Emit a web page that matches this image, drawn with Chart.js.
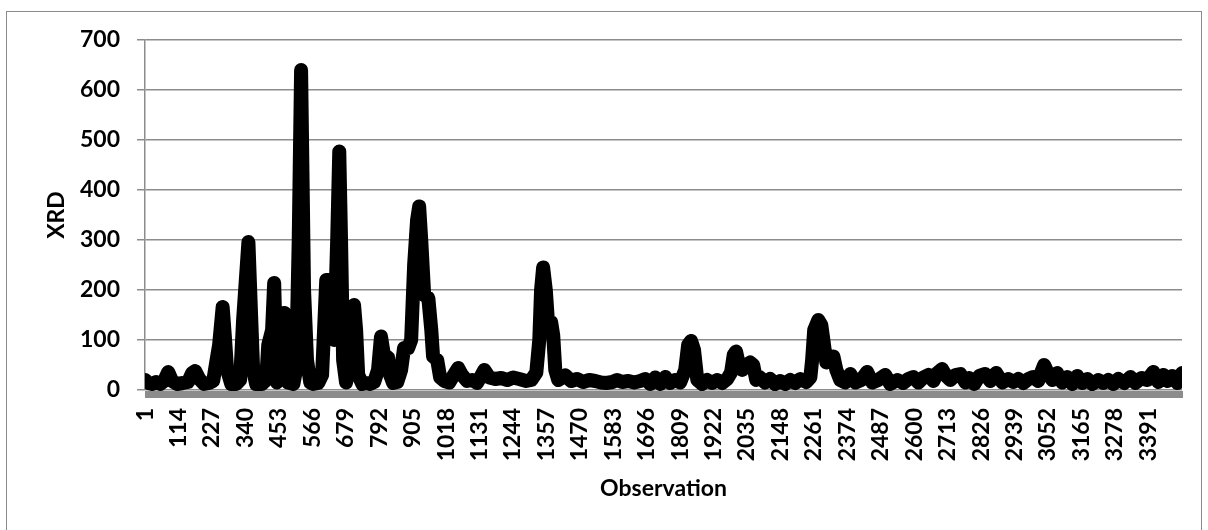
<!DOCTYPE html>
<html>
<head>
<meta charset="utf-8">
<script src="https://cdn.jsdelivr.net/npm/chart.js@4.4.1/dist/chart.umd.min.js"></script>
<style>
  html, body { margin: 0; padding: 0; background: #fff; }
  #wrap { position: relative; width: 1208px; height: 530px; overflow: hidden; }
  #frame { position: absolute; left: 6px; top: 11px; width: 1196px; height: 540px; border: 1px solid #8a8a8a; box-sizing: border-box; }
  #chart-1 { position: absolute; left: 0; top: 0; }
</style>
</head>
<body>
<div id="wrap">
  <div id="frame"></div>
  <canvas id="chart-1" width="1208" height="530"></canvas>
</div>
<script>
// observation number and XRD value
const obsX = [
  1, 11, 25, 38, 52, 65, 79, 92, 109, 129, 146, 160, 170, 184, 200, 217, 231, 241, 251, 263,
  270, 278, 292, 309, 322, 332, 350, 359, 366, 376, 396, 410, 417, 430, 437, 446, 458, 471, 477, 484,
  502, 511, 520, 528, 538, 548, 559, 569, 586, 599, 613, 626, 640, 650, 657, 663, 670, 680, 694, 707,
  714, 721, 735, 748, 761, 775, 788, 798, 808, 822, 829, 839, 853, 866, 876, 890, 900, 910, 920, 927,
  934, 944, 958, 968, 974, 988, 998, 1012, 1029, 1042, 1059, 1072, 1089, 1106, 1123, 1147, 1164, 1184, 1204, 1225,
  1245, 1265, 1289, 1306, 1323, 1333, 1339, 1346, 1355, 1363, 1373, 1380, 1387, 1397, 1421, 1441, 1461, 1481, 1502, 1522,
  1542, 1559, 1580, 1596, 1613, 1634, 1654, 1674, 1691, 1708, 1725, 1742, 1759, 1775, 1792, 1809, 1826, 1836, 1846, 1856,
  1867, 1883, 1900, 1917, 1934, 1951, 1968, 1981, 1990, 1998, 2008, 2019, 2032, 2046, 2056, 2066, 2079, 2096, 2113, 2130,
  2147, 2164, 2181, 2198, 2215, 2235, 2249, 2255, 2262, 2276, 2286, 2293, 2303, 2316, 2327, 2337, 2350, 2367, 2384, 2401,
  2421, 2441, 2458, 2478, 2502, 2519, 2543, 2563, 2580, 2597, 2614, 2631, 2648, 2665, 2678, 2694, 2708, 2722, 2739, 2756,
  2773, 2786, 2803, 2820, 2840, 2857, 2877, 2898, 2918, 2935, 2952, 2969, 2986, 3002, 3019, 3029, 3039, 3053, 3067, 3083,
  3100, 3117, 3134, 3151, 3168, 3185, 3202, 3222, 3239, 3256, 3273, 3290, 3310, 3331, 3347, 3368, 3388, 3408, 3425, 3442,
  3455, 3472, 3489, 3505
];
const xrdY = [
  20, 14, 12, 16, 12, 18, 36, 18, 12, 14, 16, 34, 38, 22, 12, 14, 18, 55, 90, 166,
  110, 40, 12, 12, 20, 140, 296, 150, 40, 12, 12, 20, 90, 120, 214, 15, 100, 154, 80, 15,
  12, 40, 300, 640, 200, 60, 15, 12, 14, 30, 220, 220, 100, 300, 477, 300, 60, 15, 60, 170,
  120, 30, 12, 14, 12, 16, 40, 107, 70, 65, 30, 14, 16, 40, 84, 84, 100, 250, 340, 367,
  300, 190, 184, 120, 67, 60, 25, 18, 15, 28, 44, 30, 18, 20, 14, 40, 25, 22, 24, 20,
  25, 22, 18, 20, 35, 100, 200, 245, 200, 130, 136, 110, 40, 20, 29, 18, 22, 16, 20, 18,
  15, 14, 16, 20, 16, 18, 15, 18, 22, 12, 25, 12, 26, 14, 20, 15, 40, 90, 98, 80,
  20, 12, 20, 14, 20, 14, 22, 35, 70, 77, 50, 40, 50, 55, 50, 20, 25, 15, 22, 12,
  18, 12, 20, 14, 22, 16, 25, 60, 120, 140, 130, 100, 55, 60, 67, 40, 20, 15, 32, 15,
  20, 36, 15, 20, 30, 12, 20, 14, 22, 26, 15, 25, 30, 18, 34, 42, 28, 20, 30, 32,
  15, 24, 12, 28, 32, 18, 34, 15, 22, 16, 22, 14, 22, 26, 18, 35, 50, 32, 20, 34,
  15, 26, 12, 28, 14, 22, 12, 20, 14, 20, 12, 22, 14, 26, 14, 24, 20, 36, 16, 30,
  18, 28, 14, 34
];
const xTickLabels = [
  1, 114, 227, 340, 453, 566, 679, 792, 905, 1018, 1131, 1244, 1357, 1470, 1583, 1696,
  1809, 1922, 2035, 2148, 2261, 2374, 2487, 2600, 2713, 2826, 2939, 3052, 3165, 3278, 3391
];
const yTickLabels = [0, 100, 200, 300, 400, 500, 600, 700];

const points = obsX.map(function (x, i) { return { x: x, y: xrdY[i] }; });

// thick grey strip under the zero line, as in the original axis
const axisBand = {
  id: 'axisBand',
  afterDatasetsDraw: function (chart) {
    const a = chart.chartArea;
    const c = chart.ctx;
    c.save();
    c.fillStyle = '#8c8c8c';
    c.fillRect(a.left, a.bottom + 1, a.right - a.left + 1, 7);
    c.restore();
  }
};

function draw() {
  const ctx1 = document.getElementById("chart-1").getContext("2d");
  const boldFont = { family: 'Lato', weight: 'bold', size: 23 };
  const myChart1 = new Chart(ctx1, {
    type: "line",
    data: {
      datasets: [{
        label: 'XRD',
        data: points,
        borderColor: '#000000',
        borderWidth: 14,
        borderJoinStyle: 'round',
        borderCapStyle: 'round',
        pointRadius: 0,
        tension: 0,
        clip: { left: 0, right: 0, top: 8, bottom: 8 }
      }]
    },
    options: {
      responsive: false,
      animation: false,
      devicePixelRatio: 1,
      layout: { padding: { top: 40, right: 26, left: 0, bottom: 0 } },
      plugins: { legend: { display: false }, tooltip: { enabled: false } },
      scales: {
        x: {
          type: 'linear',
          min: 0.5,
          max: 3505,
          afterBuildTicks: function (scale) {
            scale.ticks = xTickLabels.map(function (v) { return { value: v }; });
          },
          afterFit: function (scale) { scale.height = 140; },
          grid: { display: false },
          border: { display: false },
          ticks: {
            autoSkip: false,
            minRotation: 90,
            maxRotation: 90,
            padding: 10,
            color: '#000',
            font: boldFont,
            callback: function (v) { return String(v); }
          },
          title: { display: true, text: 'Observation', color: '#000', font: boldFont, padding: { top: 0, bottom: 28 } }
        },
        y: {
          min: 0,
          max: 700,
          afterBuildTicks: function (scale) {
            scale.ticks = yTickLabels.map(function (v) { return { value: v }; });
          },
          afterFit: function (scale) { scale.width = 145; },
          grid: { color: '#8c8c8c', lineWidth: 1.5, tickLength: 8, drawTicks: true },
          border: { display: true, color: '#8c8c8c', width: 1.5 },
          ticks: { padding: 17, color: '#000', font: boldFont },
          title: { display: true, text: 'XRD', color: '#000', font: boldFont, padding: { top: 43, bottom: 0 } }
        }
      }
    },
    plugins: [axisBand]
  });
}

document.fonts.load('bold 23px Lato').then(draw, draw);
</script>
</body>
</html>
